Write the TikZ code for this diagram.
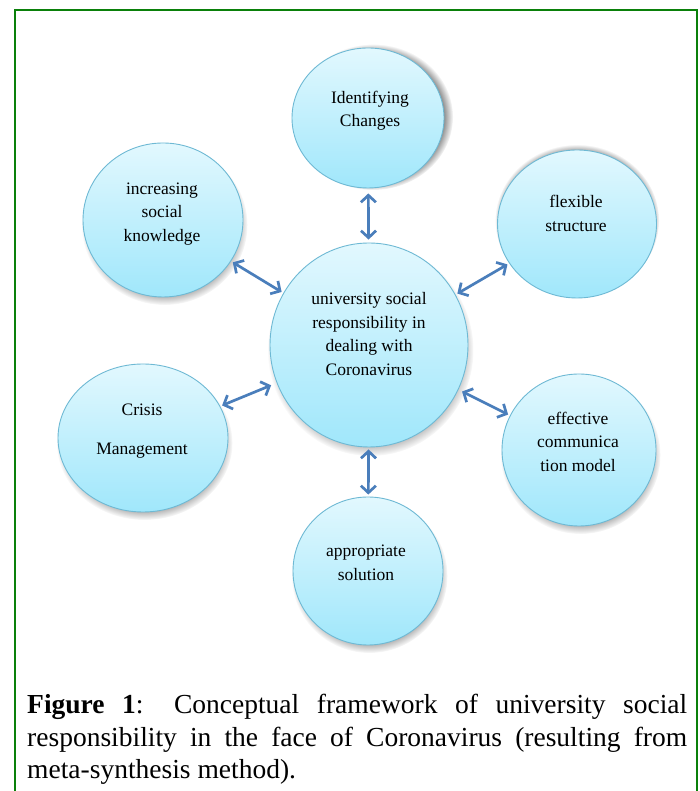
\documentclass[tikz,border=0pt]{standalone}
\usepackage{fontspec}
\setmainfont{Liberation Serif}
\usetikzlibrary{arrows.meta,shapes.geometric,fadings,backgrounds}
\hyphenpenalty=10000
\exhyphenpenalty=10000

\definecolor{bubbletop}{RGB}{226,248,254}
\definecolor{bubblebot}{RGB}{160,231,251}
\definecolor{rim}{RGB}{110,185,212}
\definecolor{linkblue}{RGB}{74,126,187}
\definecolor{framegreen}{RGB}{10,128,10}

\tikzset{
  bubble/.style={ellipse, draw=rim, line width=0.9pt, top color=bubbletop,
    bottom color=bubblebot, inner sep=0pt},
  softshade/.style={fill=black, fill opacity=#1,
    path fading=circle with fuzzy edge 20 percent},
  softshade/.default=0.45,
  bubbletxt/.style={align=center, text=black, inner sep=0pt,
    font=\fontsize{17.5}{23.5}\selectfont},
  biarrow/.style={draw=linkblue, line width=2.7pt,
    {Straight Barb[length=7pt,width=15pt]}-{Straight Barb[length=7pt,width=15pt]},
    shorten <=2pt, shorten >=2pt},
}

% soft shadow behind a bubble: node, x offset, y offset, x radius, y radius, opacity
\newcommand\bubbleshadow[6]{%
  \fill[softshade=#6] ([xshift=#2,yshift=#3]#1.center) ellipse [x radius=#4, y radius=#5];}

\begin{document}
\begin{tikzpicture}[x=1pt,y=1pt]
\useasboundingbox (0,0) rectangle (699,791);

% outer frame (runs past the lower edge)
\draw[framegreen, line width=2.6pt] (15,781) rectangle (697,-40);

% bubbles
\node[bubble, minimum width=198pt, minimum height=204pt] (core) at (369,446) {};
\node[bubble, minimum width=152pt, minimum height=140pt] (ident) at (368,673) {};
\node[bubble, minimum width=159pt, minimum height=148pt] (flex) at (577,567) {};
\node[bubble, minimum width=160pt, minimum height=154pt] (know) at (163,571) {};
\node[bubble, minimum width=170pt, minimum height=148pt] (crisis) at (143,353) {};
\node[bubble, minimum width=154pt, minimum height=152pt] (comm) at (579,341) {};
\node[bubble, minimum width=150pt, minimum height=148pt] (solve) at (368,220) {};

% page fill and the shadows under the bubbles
\begin{scope}[on background layer]
  \fill[white] (0,0) rectangle (699,791);
  \bubbleshadow{core}{1.5pt}{-5pt}{103pt}{106pt}{0.5}
  \bubbleshadow{ident}{5pt}{1pt}{80pt}{73pt}{0.75}
  \bubbleshadow{flex}{0pt}{3.5pt}{82pt}{76pt}{0.85}
  \bubbleshadow{know}{1.5pt}{-5pt}{83pt}{80pt}{0.5}
  \bubbleshadow{crisis}{1.5pt}{-5pt}{88pt}{77pt}{0.5}
  \bubbleshadow{comm}{1.5pt}{-5pt}{80pt}{79pt}{0.5}
  \bubbleshadow{solve}{1.5pt}{-5pt}{78pt}{77pt}{0.5}
\end{scope}

% labels
\node[bubbletxt] (core-t) at (369,457) {university social\\responsibility in\\dealing with\\Coronavirus};
\node[bubbletxt] (ident-t) at (370,680.5) {Identifying\\Changes};
\node[bubbletxt] (flex-t) at (576,577.5) {flexible\\structure};
\node[bubbletxt] (know-t) at (162,577) {increasing\\social\\knowledge};
\node[bubbletxt] (crisis-t) at (142,360) {Crisis\\[15pt]Management};
\node[bubbletxt] (comm-t) at (578,349.5) {effective\\communica\\tion model};
\node[bubbletxt] (solve-t) at (366,228) {appropriate\\solution};

% two-way links
\draw[biarrow, shorten <=5pt, shorten >=3pt] (ident) -- (core);
\draw[biarrow] (know) -- (core);
\draw[biarrow] (flex) -- (core);
\draw[biarrow, shorten <=2pt, shorten >=6pt] (crisis) -- (core);
\draw[biarrow, shorten <=2pt, shorten >=4pt] (comm) -- (core);
\draw[biarrow, shorten <=2pt, shorten >=2pt] (solve) -- (core);

% caption
\node[anchor=north west, text width=660pt, align=justify, inner sep=0pt,
  font=\fontsize{27.5}{32.5}\selectfont] (caption) at (27,97)
  {\textbf{Figure 1}: Conceptual framework of university social responsibility in the face of Coronavirus (resulting from meta-synthesis method).};
\end{tikzpicture}
\end{document}
